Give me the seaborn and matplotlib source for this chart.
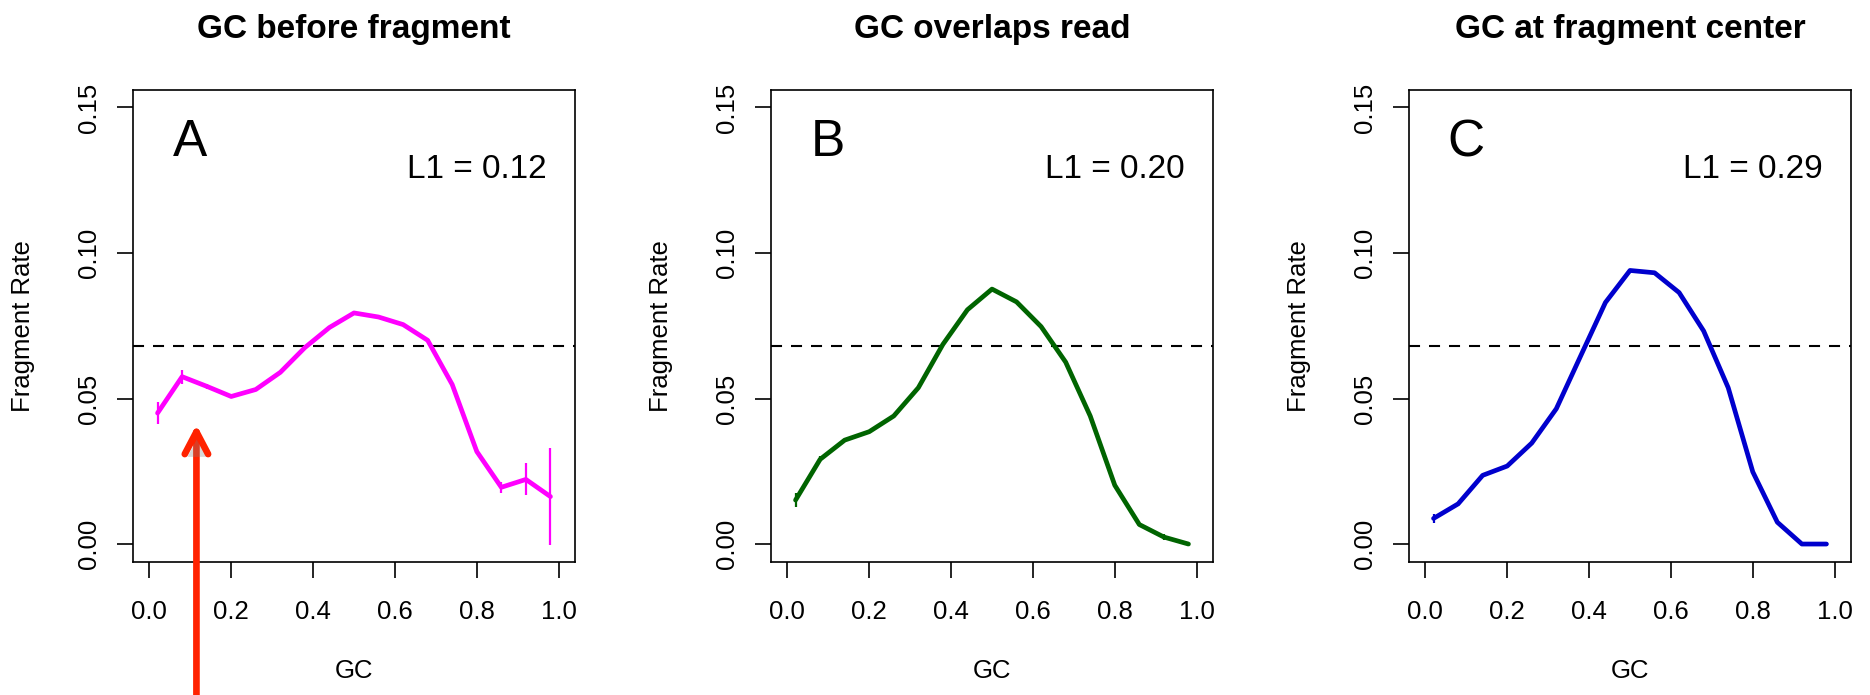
import numpy as np
import pandas as pd
import matplotlib
matplotlib.use("Agg")
import matplotlib.pyplot as plt
import matplotlib.patheffects as pe
import seaborn as sns

# ---------------- data ----------------
gc = [0.02, 0.08, 0.14, 0.20, 0.26, 0.32, 0.38, 0.44, 0.50,
      0.56, 0.62, 0.68, 0.74, 0.80, 0.86, 0.92, 0.98]

rate_a = [0.0450, 0.0575, 0.0542, 0.0507, 0.0531, 0.0590, 0.0675, 0.0744, 0.0794,
          0.0780, 0.0754, 0.0700, 0.0548, 0.0318, 0.0195, 0.0222, 0.0163]
err_a = [0.0037, 0.0024, 0.0008, 0.0004, 0.0004, 0.0004, 0.0004, 0.0004, 0.0004,
         0.0004, 0.0004, 0.0004, 0.0006, 0.0009, 0.0019, 0.0055, 0.0166]

rate_b = [0.0151, 0.0291, 0.0357, 0.0386, 0.0440, 0.0537, 0.0686, 0.0805, 0.0876,
          0.0832, 0.0747, 0.0625, 0.0440, 0.0202, 0.0067, 0.0024, 0.0000]
err_b = [0.0023, 0.0010, 0.0004, 0.0003, 0.0003, 0.0003, 0.0003, 0.0003, 0.0003,
         0.0003, 0.0003, 0.0003, 0.0003, 0.0003, 0.0006, 0.0010, 0.0003]

rate_c = [0.0088, 0.0138, 0.0236, 0.0268, 0.0347, 0.0465, 0.0648, 0.0830, 0.0940,
          0.0932, 0.0864, 0.0732, 0.0537, 0.0248, 0.0075, 0.0000, 0.0000]
err_c = [0.0016, 0.0008, 0.0003, 0.0003, 0.0003, 0.0003, 0.0003, 0.0003, 0.0003,
         0.0003, 0.0003, 0.0003, 0.0003, 0.0003, 0.0004, 0.0000, 0.0000]

titles = ["GC before fragment", "GC overlaps read", "GC at fragment center"]
panel_letters = ["A", "B", "C"]
l1_values = [0.12, 0.20, 0.29]
colors = ["#FF00FF", "#006400", "#0000CD"]
reference_rate = 0.0681
x_ticks = [0.0, 0.2, 0.4, 0.6, 0.8, 1.0]
y_ticks = [0.00, 0.05, 0.10, 0.15]

rates = [rate_a, rate_b, rate_c]
errs = [err_a, err_b, err_c]

# ---------------- style ----------------
sns.set_theme(style="ticks")
plt.rcParams["font.family"] = ["Liberation Sans", "DejaVu Sans"]
plt.rcParams["axes.edgecolor"] = "black"
plt.rcParams["xtick.color"] = "black"
plt.rcParams["ytick.color"] = "black"
plt.rcParams["text.color"] = "black"
plt.rcParams["axes.labelcolor"] = "black"

W, H = 1870, 695
fig = plt.figure(figsize=(W / 100, H / 100), dpi=100)

lefts_px = [133, 771, 1409]
ax_w = 442 / W
ax_b = (H - 561.5) / H
ax_h = (561.5 - 90) / H

for i in range(3):
    ax = fig.add_axes([lefts_px[i] / W, ax_b, ax_w, ax_h])
    df = pd.DataFrame({"GC": gc, "rate": rates[i], "err": errs[i]})

    ax.axhline(reference_rate, color="black", lw=1.5, dashes=(5.3, 4.3), zorder=1)
    ax.vlines(df["GC"], df["rate"] - df["err"], df["rate"] + df["err"],
              color=colors[i], lw=1.6, zorder=2)
    sns.lineplot(data=df, x="GC", y="rate", ax=ax, color=colors[i], lw=3.4,
                 solid_capstyle="round", solid_joinstyle="round", zorder=3)

    ax.set_xlim(-0.04, 1.04)
    ax.set_ylim(-0.006, 0.156)
    ax.set_xticks(x_ticks)
    ax.set_xticklabels([f"{t:.1f}" for t in x_ticks])
    ax.set_yticks(y_ticks)
    ax.set_yticklabels([f"{t:.2f}" for t in y_ticks])

    ax.tick_params(axis="both", direction="out", length=11.5, width=1.2,
                   labelsize=18.5)
    ax.tick_params(axis="x", pad=16)
    ax.tick_params(axis="y", pad=11.7)
    for lbl in ax.get_yticklabels():
        lbl.set_rotation(90)
        lbl.set_va("center")
    for s in ax.spines.values():
        s.set_visible(True)
        s.set_linewidth(1.2)
        s.set_color("black")

    ax.set_xlabel("GC", fontsize=18.5)
    ax.xaxis.set_label_coords(0.5, -(671.5 - 561.5) / 471.5)
    ax.xaxis.label.set_va("center")
    ax.set_ylabel("Fragment Rate", fontsize=18.5)
    ax.yaxis.set_label_coords(-110 / 442, 0.5)
    ax.yaxis.label.set_va("center")

    ax.set_title(titles[i], fontsize=24, fontweight="bold", pad=37.7)

    ax.text(0.1, 0.1333, panel_letters[i], fontsize=37, ha="center", va="baseline")
    ax.text(0.8, 0.1257, f"L1 = {l1_values[i]:.2f}", fontsize=24,
            ha="center", va="baseline")

    if i == 0:
        ax.annotate("", xy=(0.115, 0.041), xytext=(0.115, -0.06),
                    xycoords="data", textcoords="data", annotation_clip=False,
                    arrowprops=dict(arrowstyle="->,head_length=0.8,head_width=0.42",
                                    mutation_scale=20, lw=4.8, color="#FF2200",
                                    shrinkA=0, shrinkB=0, clip_on=False,
                                    path_effects=[pe.withSimplePatchShadow(
                                        offset=(2, -2), shadow_rgbFace="0.5",
                                        alpha=0.3)]))

fig.savefig("out.png", dpi=100)
